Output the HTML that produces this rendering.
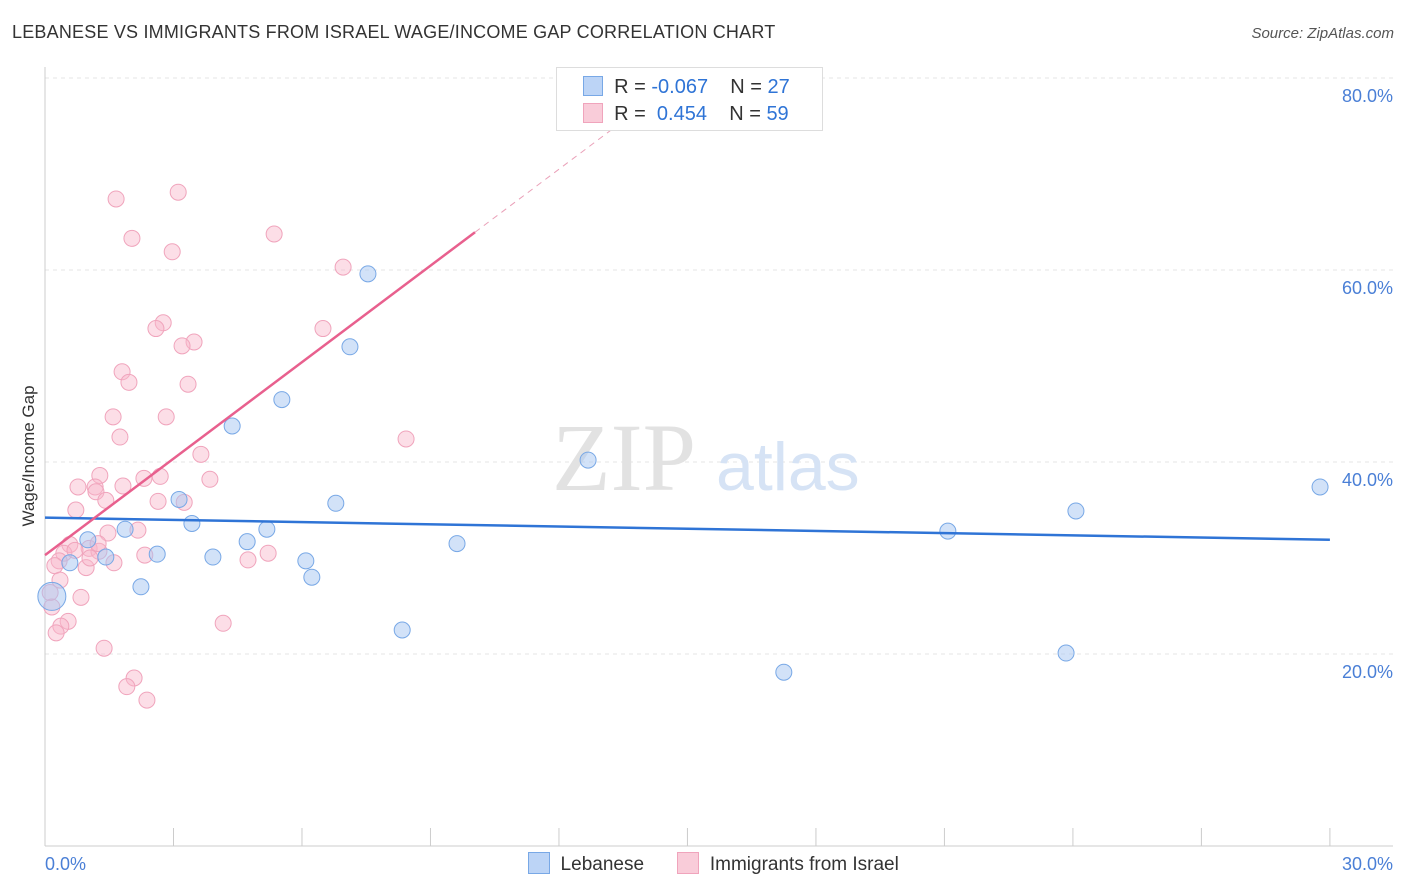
<!DOCTYPE html>
<html><head><meta charset="utf-8">
<style>
body{margin:0;background:#fff;font-family:"Liberation Sans",sans-serif;}
#c{position:relative;width:1406px;height:892px;overflow:hidden}
.t{position:absolute;white-space:nowrap}
</style></head><body>
<div id="c">
<div class="t" style="left:12px;top:22px;font-size:18px;color:#333;letter-spacing:0.2px">LEBANESE VS IMMIGRANTS FROM ISRAEL WAGE/INCOME GAP CORRELATION CHART</div>
<div class="t" style="right:12px;top:25px;font-size:15px;color:#555;font-style:italic">Source: ZipAtlas.com</div>
<svg id="s" width="1406" height="892" style="position:absolute;left:0;top:0"></svg>
</div>
<script>
const blueX=[0.16,0.58,1.0,1.42,1.87,2.24,2.62,3.13,3.43,3.92,4.37,4.72,5.18,5.53,6.09,6.23,6.79,7.12,7.54,8.34,9.62,12.68,17.25,21.08,23.84,24.07,29.77];
const blueY=[26.0,29.5,31.9,30.1,33.0,27.0,30.4,36.1,33.6,30.1,43.75,31.7,33.0,46.5,29.7,28.0,35.7,52.0,59.6,22.5,31.5,40.2,18.1,32.8,20.1,34.9,37.4];
const pinkX=[1.66,3.11,2.03,2.97,5.35,6.96,2.76,2.59,3.48,3.2,6.49,1.8,1.96,3.34,1.59,2.83,1.75,8.43,3.64,1.28,2.69,2.31,3.85,0.77,1.17,1.82,1.19,1.42,2.64,3.25,0.72,1.47,2.17,0.58,1.03,1.26,0.44,2.33,5.21,4.74,0.33,1.61,0.96,0.23,0.84,0.12,0.54,0.37,0.26,4.16,1.38,2.08,1.91,2.38,0.16,1.05,0.7,1.24,0.35];
const pinkY=[67.4,68.1,63.3,61.9,63.75,60.3,54.5,53.9,52.5,52.1,53.9,49.4,48.3,48.1,44.7,44.7,42.6,42.4,40.8,38.6,38.5,38.3,38.2,37.4,37.4,37.5,36.9,36.0,35.9,35.8,35.0,32.6,32.9,31.4,31.0,30.7,30.5,30.3,30.5,29.8,29.7,29.5,29.0,29.2,25.9,26.4,23.4,22.9,22.2,23.2,20.6,17.5,16.6,15.2,24.9,30.0,30.8,31.5,27.7];
const yTicks=[20,40,60,80];
const yTickLabels=["20.0%","40.0%","60.0%","80.0%"];
const xTickLabels=["0.0%","30.0%"];
const blueTrend=[34.2,31.9];
const pinkTrend=[30.3,3.35];
const NS="http://www.w3.org/2000/svg";
const s=document.getElementById('s');
const X=v=>45+v*42.83, Y=v=>846-v*9.6;
function el(t,a,p){const e=document.createElementNS(NS,t);for(const k in a)e.setAttribute(k,a[k]);(p||s).appendChild(e);return e;}
yTicks.forEach((t,i)=>{
 const g=el('line',{x1:45,x2:1393,y1:Y(t),y2:Y(t),stroke:'#e4e4e4','stroke-dasharray':'4,4'});
 
 
 const l=el('text',{x:1393,y:Y(t)+24,'text-anchor':'end','font-size':18,fill:'#4a7fd6','font-family':'Liberation Sans'});
 l.textContent=yTickLabels[i];
 
 
});
const ax=el('line',{x1:45,x2:45,y1:67,y2:846,stroke:'#ccc'});


const bx=el('line',{x1:45,x2:1393,y1:846,y2:846,stroke:'#ccc'});


for(let i=0;i<=10;i++){const x=X(i*3);const tk=el('line',{x1:x,x2:x,y1:828,y2:846,stroke:'#ccc'});
 
 }
[[0,'start',45],[1,'end',1393]].forEach(([i,a,x])=>{const l=el('text',{x:x,y:870,'text-anchor':a,'font-size':18,fill:'#4a7fd6','font-family':'Liberation Sans'});l.textContent=xTickLabels[i];
 
 });
const yt=el('text',{x:34,y:456,'text-anchor':'middle','font-size':17,fill:'#333',transform:'rotate(-90 34 456)','font-family':'Liberation Sans'});yt.textContent='Wage/Income Gap';


const w1=el('text',{x:552,y:490,'font-size':96,fill:'#e2e2e2','font-family':'Liberation Serif'});w1.textContent='ZIP';


const w2=el('text',{x:716,y:490,'font-size':68,fill:'#d6e3f5','font-family':'Liberation Sans'});w2.textContent='atlas';


pinkX.forEach((x,i)=>{const c=el('circle',{cx:X(x),cy:Y(pinkY[i]),r:8,fill:'rgba(248,182,202,0.45)',stroke:'#f0a4bc','stroke-width':1});
 
 });
blueX.forEach((x,i)=>{const c=el('circle',{cx:X(x),cy:Y(blueY[i]),r:i==0?14:8,fill:'rgba(166,198,242,0.5)',stroke:'#78a8e6','stroke-width':1});
 
 });
const bl=el('line',{x1:X(0),y1:Y(blueTrend[0]),x2:X(30),y2:Y(blueTrend[1]),stroke:'#2f74d6','stroke-width':2.5});


const pl=el('line',{x1:X(0),y1:Y(pinkTrend[0]),x2:X(10.04),y2:Y(pinkTrend[0]+pinkTrend[1]*10.04),stroke:'#e8608e','stroke-width':2.5});


const pd=el('line',{x1:X(10.04),y1:Y(pinkTrend[0]+pinkTrend[1]*10.04),x2:X(13.5),y2:Y(pinkTrend[0]+pinkTrend[1]*13.5),stroke:'#eaa0b8','stroke-width':1,'stroke-dasharray':'6,5'});


</script>
<div class="t" style="left:556px;top:67px;width:265px;height:62px;border:1px solid #ddd;background:#fff;font-size:20px;color:#333">
 <div style="position:absolute;left:26px;top:8px"><span style="display:inline-block;width:18px;height:18px;background:#bcd4f6;border:1px solid #78a8e6;vertical-align:-3px"></span>&nbsp; R = <span style="color:#2f74d6">-0.067</span>&nbsp;&nbsp;&nbsp; N = <span style="color:#2f74d6">27</span></div>
 <div style="position:absolute;left:26px;top:35px"><span style="display:inline-block;width:18px;height:18px;background:#f9ccd9;border:1px solid #f0a4bc;vertical-align:-3px"></span>&nbsp; R = &nbsp;<span style="color:#2f74d6">0.454</span>&nbsp;&nbsp;&nbsp; N = <span style="color:#2f74d6">59</span></div>
</div>
<div class="t" style="left:528px;top:852px;font-size:19px;color:#333">
 <span><span style="display:inline-block;width:20px;height:20px;background:#bcd4f6;border:1px solid #78a8e6;vertical-align:-4px"></span>&nbsp; Lebanese</span>
 <span style="margin-left:28px"><span style="display:inline-block;width:20px;height:20px;background:#f9ccd9;border:1px solid #f0a4bc;vertical-align:-4px"></span>&nbsp; Immigrants from Israel</span>
</div>
</body></html>
